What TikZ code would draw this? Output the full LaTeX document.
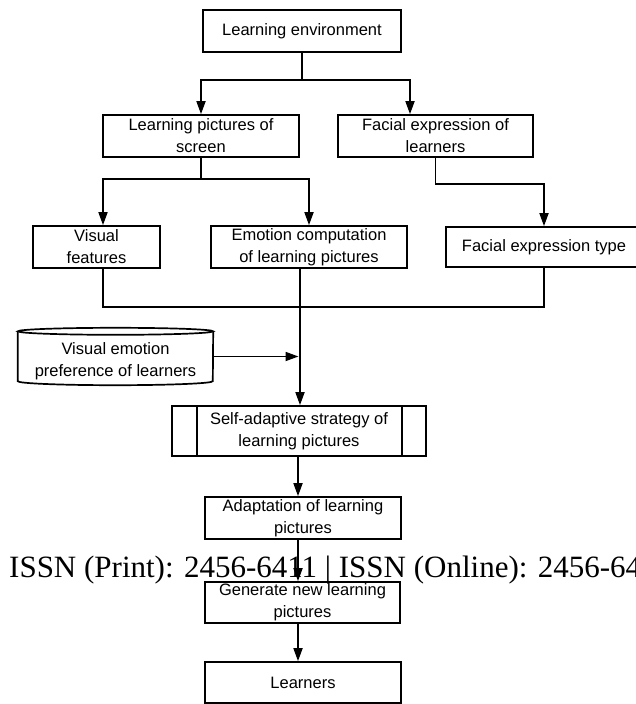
\documentclass[tikz,border=0pt]{standalone}
\usepackage{fontspec}
\newfontfamily\diagfont{Liberation Sans}
\newfontfamily\issnfont{Liberation Serif}
\usetikzlibrary{arrows.meta,calc}
\tikzset{
  ln/.style={line width=1.7pt},
  arr/.style={line width=1.7pt,-{Triangle[length=13pt,width=9pt]}},
  box/.style={draw,line width=1.7pt,minimum height=42pt,inner sep=0pt,align=center,
    font=\diagfont\fontsize{16.5}{22}\selectfont},
  plain/.style={inner sep=0pt,align=center,font=\diagfont\fontsize{16.5}{22}\selectfont}
}
\begin{document}
\begin{tikzpicture}[x=1pt,y=-1pt]
\clip (0,0) rectangle (636,704);
\fill[white] (0,0) rectangle (636,704);
% boxes
\node[box,minimum width=198pt] (env) at (302,31) {Learning environment};
\node[box,minimum width=196pt] (lps) at (201,136) {Learning pictures of\\screen};
\node[box,minimum width=195pt] (fel) at (435.5,136) {Facial expression of\\learners};
\node[box,minimum width=127pt] (vf) at (96.5,247) {Visual\\features};
\node[box,minimum width=196pt] (emo) at (309,247) {Emotion computation\\of learning pictures};
\node[box,minimum width=196pt,minimum height=40pt] (fet) at (544,247) {Facial expression type};
% cylinder
\node[inner sep=0pt,minimum width=195pt,minimum height=57pt] (cyl) at (115.5,356.5) {};
\node[plain] (cyltxt) at (115.5,361.5) {Visual emotion\\preference of learners};
\draw[ln] ([yshift=-3.5pt]cyl.north west) -- ([yshift=4pt]cyl.south west)
  arc[start angle=180,end angle=360,x radius=97.5pt,y radius=4pt]
  -- ([yshift=-3.5pt]cyl.north east);
\draw[ln] ([yshift=-3.5pt]cyl.north) ellipse [x radius=97.5pt,y radius=3.5pt];
% self-adaptive
\node[box,minimum width=254pt,minimum height=50pt] (sas) at (299,431) {Self-adaptive strategy of\\learning pictures};
\draw[ln] ([xshift=26pt]sas.north west) -- ([xshift=26pt]sas.south west);
\draw[ln] ([xshift=-25pt]sas.north east) -- ([xshift=-25pt]sas.south east);
\node[box,minimum width=196pt] (adp) at (303,518) {Adaptation of learning\\pictures};
\node[box,minimum width=195pt,minimum height=41pt] (gen) at (302.5,602.5) {Generate new learning\\pictures};
\node[box,minimum width=196pt,minimum height=41pt] (lrn) at (303,682.5) {Learners};
% ISSN overlay text
\node[anchor=base west,inner sep=0pt,font=\issnfont\fontsize{31}{36}\selectfont] (issn) at (9,577) {ISSN (Print): 2456-6411 | ISSN (Online): 2456-6411};
% connectors
\coordinate (j1) at (302,80);
\draw[ln] (env.south) -- (j1);
\draw[arr] (j1) -| (lps.north);
\draw[arr] (j1) -| ([xshift=-25.5pt]fel.north);
\coordinate (j2) at (201,179);
\draw[ln] (lps.south) -- (j2);
\draw[arr] (j2) -| ([xshift=6.5pt]vf.north);
\draw[arr] (j2) -| (emo.north);
\draw[arr] (fel.south) -- ++(0,26) -| (fet.north);
\coordinate (j3) at (300,307);
\draw[ln] ([xshift=6.5pt]vf.south) |- (j3);
\draw[ln] (fet.south) |- (j3);
\draw[arr] ([xshift=-9pt]emo.south) -- ([xshift=-9pt]emo.south |- sas.north);
\draw[arr,shorten >=1.5pt] (cyl.east) -- (cyl.east -| j3);
\draw[arr] ([xshift=-1pt]sas.south) -- ([xshift=-1pt]sas.south |- adp.north);
\draw[arr] ([xshift=-5pt]adp.south) -- ([xshift=-5pt]adp.south |- gen.north);
\draw[arr] ([xshift=-4.5pt]gen.south) -- ([xshift=-4.5pt]gen.south |- lrn.north);
\end{tikzpicture}
\end{document}
